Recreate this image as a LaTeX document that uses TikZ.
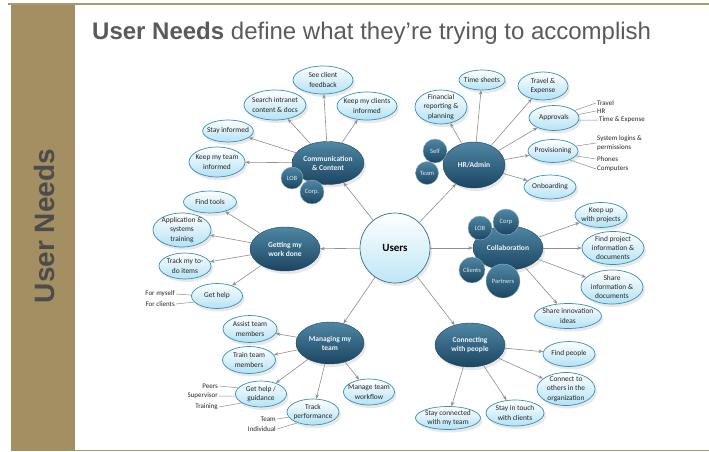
\documentclass[tikz,border=0pt]{standalone}
\usepackage{fontspec}
\setmainfont{Carlito}
\newfontfamily\headfont{Liberation Sans}
\usetikzlibrary{shapes.geometric,arrows.meta,shadows}

\definecolor{barkhaki}{HTML}{A38F62}
\definecolor{rulekhaki}{HTML}{A89A6C}
\definecolor{headgray}{HTML}{5A5A5A}
\definecolor{neededge}{HTML}{3A8DB8}
\definecolor{needfill}{HTML}{B3E2F5}
\definecolor{topictop}{HTML}{4F87A4}
\definecolor{topicbot}{HTML}{1B4562}
\definecolor{linkgray}{HTML}{8E8E8E}

\tikzset{
  need/.style 2 args={ellipse, draw=neededge, line width=0.7pt, top color=white, bottom color=needfill,
    inner sep=-3pt, minimum width=#1, minimum height=#2, align=center, text=black!85,
    font=\fontsize{7.4}{9.4}\selectfont, drop shadow={shadow xshift=2pt, shadow yshift=-3pt, opacity=0.18}},
  topic/.style 2 args={ellipse, draw=topicbot, line width=0.4pt, top color=topictop, bottom color=topicbot,
    inner sep=-3pt, minimum width=#1, minimum height=#2, align=center, text=white!92!topictop,
    font=\bfseries\fontsize{7.5}{9}\selectfont, drop shadow={shadow xshift=2pt, shadow yshift=-3pt, opacity=0.18}},
  bubble/.style={circle, draw=topictop!60!white, line width=0.4pt, top color=topictop, bottom color=topicbot,
    inner sep=0pt, minimum size=#1, text=white!80!topictop, font=\fontsize{6.5}{7}\selectfont},
  link/.style={draw=linkgray, line width=0.6pt, -{Stealth[length=4.5pt,width=3.5pt]}},
  tag/.style={inner sep=1pt, align=left, text=black!85, font=\fontsize{7}{8.5}\selectfont},
  tagline/.style={draw=linkgray, line width=0.5pt}
}

\begin{document}
\begin{tikzpicture}[x=1pt, y=-1pt]
\useasboundingbox (0,0) rectangle (709,452);

\fill[barkhaki] (11,4) rectangle (75,451);
\draw[rulekhaki, line width=2pt] (8,4.5) -- (709,4.5);
\draw[rulekhaki, line width=1.5pt] (75,450.5) -- (709,450.5);
\node[rotate=90, text=headgray!85!black, font=\headfont\bfseries\fontsize{28}{30}\selectfont] (side) at (44,226) {User Needs};
\node[anchor=base west, inner sep=0pt, text=headgray, font=\headfont\fontsize{24}{26}\selectfont] (head) at (92,40)
  {\textbf{User Needs} define what they’re trying to accomplish};

\node[circle, draw=neededge!80!black, line width=0.7pt, top color=white, bottom color=needfill!85,
  minimum size=70, font=\bfseries\fontsize{11}{12}\selectfont,
  drop shadow={shadow xshift=2pt, shadow yshift=-3pt, opacity=0.18}] (users) at (395,248) {Users};

\node[topic={72}{43}] (comm) at (328,163) {Communication\\\& Content};
\node[bubble=22] (comlob) at (292,178) {LOB};
\node[bubble=24] (comcorp) at (312,192) {Corp.};
\node[need={60}{28}] (seefb) at (323,80) {See client\\feedback};
\node[need={62}{30}] (search) at (275,105) {Search intranet\\content \& docs};
\node[need={60}{28}] (keepcl) at (367,106) {Keep my clients\\informed};
\node[need={50}{22}] (stayinf) at (228,131) {Stay informed};
\node[need={56}{30}] (keeptm) at (217,162) {Keep my team\\informed};

\node[topic={62}{46}] (hr) at (474,165) {HR/Admin};
\node[bubble=24] (self) at (435,151) {Self};
\node[bubble=23] (team) at (427,173) {Team};
\node[need={52}{34}] (fin) at (441,107) {Financial\\reporting \&\\planning};
\node[need={46}{20}] (tsheets) at (482,80) {Time sheets};
\node[need={50}{28}] (travexp) at (543,86) {Travel \&\\Expense};
\node[need={50}{25}] (approv) at (554,118) {Approvals};
\node[need={50}{23}] (prov) at (553,151) {Provisioning};
\node[need={52}{24}] (onb) at (550,187) {Onboarding};
\node[tag, anchor=west] (ttravel) at (596,103) {Travel};
\node[tag, anchor=west] (thr) at (596,111) {HR};
\node[tag, anchor=west] (ttime) at (598,120) {Time \& Expense};
\node[tag, anchor=west] (tsys) at (596,143) {System logins \&\\permissions};
\node[tag, anchor=west] (tphones) at (596,159) {Phones};
\node[tag, anchor=west] (tcomp) at (596,169) {Computers};

\node[topic={70}{44}] (collab) at (508,248) {Collaboration};
\node[bubble=24] (clob) at (480,228) {LOB};
\node[bubble=26] (ccorp) at (506,222) {Corp};
\node[bubble=26] (clients) at (472,270) {Clients};
\node[bubble=34] (partners) at (503,281) {Partners};
\node[need={52}{25}] (keepup) at (601,215) {Keep up\\with projects};
\node[need={62}{33}] (findproj) at (613,248) {Find project\\information \&\\documents};
\node[need={62}{34}] (shareinf) at (612,287) {Share\\information \&\\documents};
\node[need={67}{25}] (shareinn) at (568,316) {Share innovation\\ideas};

\node[topic={70}{44}] (work) at (285,249) {Getting my\\work done};
\node[need={53}{22}] (tools) at (210,202) {Find tools};
\node[need={58}{34}] (appsys) at (182,230) {Application \&\\systems\\training};
\node[need={52}{26}] (todo) at (185,266) {Track my to-\\do items};
\node[need={51}{25}] (gethelp) at (217,296) {Get help};
\node[tag, anchor=east] (tmyself) at (176,294) {For myself};
\node[tag, anchor=east] (tclients) at (176,304) {For clients};

\node[topic={68}{42}] (manage) at (330,343) {Managing my\\team};
\node[need={54}{27}] (assist) at (250,329) {Assist team\\members};
\node[need={53}{27}] (train) at (249,360) {Train team\\members};
\node[need={51}{26}] (guide) at (261,394) {Get help /\\guidance};
\node[need={52}{26}] (track) at (313,412) {Track\\performance};
\node[need={51}{26}] (flow) at (369,392) {Manage team\\workflow};
\node[tag, anchor=east] (tpeers) at (219,386) {Peers};
\node[tag, anchor=east] (tsuper) at (219,396) {Supervisor};
\node[tag, anchor=east] (ttrain) at (219,407) {Training};
\node[tag, anchor=east] (tteam) at (277,419) {Team};
\node[tag, anchor=east] (tindiv) at (277,429) {Individual};

\node[topic={70}{44}] (connect) at (470,345) {Connecting\\with people};
\node[need={52}{25}] (findp) at (569,354) {Find people};
\node[need={58}{33}] (others) at (566,389) {Connect to\\others in the\\organization};
\node[need={58}{26}] (touch) at (515,413) {Stay in touch\\with clients};
\node[need={65}{23}] (stayteam) at (448,418) {Stay connected\\with my team};

\foreach \t in {comm,hr,work,collab,manage,connect}
  \draw[link] (users) -- (\t);
\foreach \n in {seefb,search,keepcl,stayinf,keeptm}
  \draw[link] (comm) -- (\n);
\foreach \n in {fin,tsheets,travexp,approv,prov,onb}
  \draw[link] (hr) -- (\n);
\foreach \n in {keepup,findproj,shareinf,shareinn}
  \draw[link] (collab) -- (\n);
\foreach \n in {tools,appsys,todo,gethelp}
  \draw[link] (work) -- (\n);
\foreach \n in {assist,train,guide,track,flow}
  \draw[link] (manage) -- (\n);
\foreach \n in {findp,others,touch,stayteam}
  \draw[link] (connect) -- (\n);

\draw[tagline] (approv.20) -- (ttravel.west);
\draw[tagline] (approv.8) -- (thr.west);
\draw[tagline] (approv.-5) -- (ttime.west);
\draw[tagline] (prov.12) -- (tsys.west);
\draw[tagline] (prov.-12) -- (tphones.west);
\draw[tagline] (prov.-28) -- (tcomp.west);
\draw[tagline] (tmyself.east) -- (gethelp.178);
\draw[tagline] (tclients.east) -- (gethelp.195);
\draw[tagline] (tpeers.east) -- (guide.165);
\draw[tagline] (tsuper.east) -- (guide.185);
\draw[tagline] (ttrain.east) -- (guide.205);
\draw[tagline] (tteam.east) -- (track.192);
\draw[tagline] (tindiv.east) -- (track.215);
\end{tikzpicture}
\end{document}
